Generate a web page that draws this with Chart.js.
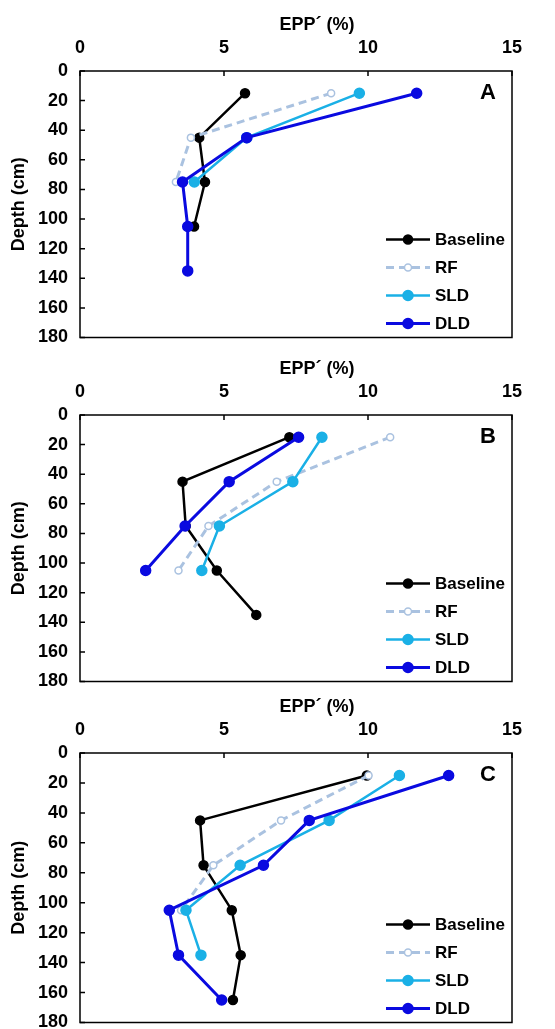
<!DOCTYPE html>
<html>
<head>
<meta charset="utf-8">
<script src="https://cdn.jsdelivr.net/npm/chart.js@4.4.0/dist/chart.umd.min.js"></script>
<style>
  body { margin: 0; background: #fff; }
  .panel { position: relative; width: 555px; }
</style>
</head>
<body>
<div class="panel" style="height:344px"><canvas id="chartA"></canvas></div>
<div class="panel" style="height:344px"><canvas id="chartB"></canvas></div>
<div class="panel" style="height:341px"><canvas id="chartC"></canvas></div>
<script>
// depth of each sampling layer (cm)
const depths = [15, 45, 75, 105, 135, 165];
const xTicks = [0, 5, 10, 15];
const yTicks = [0, 20, 40, 60, 80, 100, 120, 140, 160, 180];
const seriesNames = ['Baseline', 'RF', 'SLD', 'DLD'];

// EPP' (%), panel A
const baselineA = [5.73, 4.14, 4.34, 3.96];
const rfA = [8.72, 3.85, 3.33];
const sldA = [9.70, 5.79, 3.97];
const dldA = [11.69, 5.79, 3.56, 3.74, 3.74];

// panel B
const baselineB = [7.27, 3.56, 3.67, 4.75, 6.12];
const rfB = [10.77, 6.83, 4.46, 3.42];
const sldB = [8.40, 7.39, 4.84, 4.23];
const dldB = [7.59, 5.18, 3.65, 2.28];

// panel C
const baselineC = [9.96, 4.17, 4.29, 5.27, 5.58, 5.31];
const rfC = [10.02, 6.98, 4.63, 3.51];
const sldC = [11.09, 8.65, 5.56, 3.68, 4.20];
const dldC = [12.80, 7.96, 6.37, 3.10, 3.42, 4.92];

const FONT = '"Liberation Sans", Arial, sans-serif';

function toPoints(values) {
  return values.map((v, i) => ({ x: v, y: depths[i] }));
}

// box, inner ticks, top title, panel letter and legend
const framePlugin = {
  id: 'frame',
  afterDraw(chart, args, opts) {
    const ctx = chart.ctx;
    const a = chart.chartArea;
    const xs = chart.scales.x;
    const ys = chart.scales.y;
    ctx.save();
    ctx.strokeStyle = '#000';
    ctx.lineWidth = 1.5;
    ctx.setLineDash([]);
    ctx.strokeRect(a.left, a.top, a.right - a.left, a.bottom - a.top);
    ctx.beginPath();
    xTicks.forEach(v => {
      const px = xs.getPixelForValue(v);
      ctx.moveTo(px, a.top);
      ctx.lineTo(px, a.top + 5);
    });
    yTicks.forEach(v => {
      const py = ys.getPixelForValue(v);
      ctx.moveTo(a.left, py);
      ctx.lineTo(a.left + 5, py);
    });
    ctx.stroke();

    ctx.fillStyle = '#000';
    ctx.textAlign = 'center';
    ctx.textBaseline = 'middle';
    ctx.font = 'bold 18px ' + FONT;
    ctx.fillText('EPP\u00b4 (%)', (a.left + a.right) / 2 + 21, a.top - 46);
    ctx.font = 'bold 22px ' + FONT;
    ctx.fillText(opts.letter, a.right - 24, a.top + 22);

    // legend
    chart.data.datasets.forEach((ds, i) => {
      const y = a.bottom - 98 + i * 28;
      ctx.beginPath();
      ctx.strokeStyle = ds.borderColor;
      ctx.lineWidth = ds.borderWidth;
      ctx.setLineDash(ds.borderDash || []);
      ctx.moveTo(386, y);
      ctx.lineTo(430, y);
      ctx.stroke();
      ctx.setLineDash([]);
      ctx.beginPath();
      ctx.arc(408, y, ds.pointRadius, 0, Math.PI * 2);
      ctx.fillStyle = ds.pointBackgroundColor;
      ctx.fill();
      ctx.lineWidth = ds.pointBorderWidth;
      ctx.strokeStyle = ds.pointBorderColor;
      ctx.stroke();
      ctx.fillStyle = '#000';
      ctx.textAlign = 'left';
      ctx.font = 'bold 17px ' + FONT;
      ctx.fillText(ds.label, 435, y + 1);
    });
    ctx.restore();
  }
};

function makeChart(id, letter, series, topSpace, bottomPad) {
  const styles = [
    { color: '#000000', width: 2.5, radius: 4.5, fill: '#000000', dash: [] , order: 4},
    { color: '#aac2e0', width: 3, radius: 3.5, fill: '#ffffff', dash: [8, 5], order: 3 },
    { color: '#1ab0e6', width: 2.5, radius: 5, fill: '#1ab0e6', dash: [], order: 2 },
    { color: '#0a0ae0', width: 3, radius: 5, fill: '#0a0ae0', dash: [], order: 1 }
  ];
  const datasets = series.map((vals, i) => ({
    label: seriesNames[i],
    data: toPoints(vals),
    borderColor: styles[i].color,
    borderWidth: styles[i].width,
    borderDash: styles[i].dash,
    pointRadius: styles[i].radius,
    pointBackgroundColor: styles[i].fill,
    pointBorderColor: styles[i].color,
    pointBorderWidth: 1.5,
    showLine: true,
    tension: 0,
    order: styles[i].order
  }));

  return new Chart(document.getElementById(id), {
    type: 'scatter',
    data: { datasets: datasets },
    options: {
      responsive: true,
      maintainAspectRatio: false,
      animation: false,
      layout: { padding: { left: 0, right: 43, top: 0, bottom: bottomPad } },
      plugins: {
        legend: { display: false },
        tooltip: { enabled: false },
        frame: { letter: letter }
      },
      scales: {
        x: {
          type: 'linear',
          position: 'top',
          min: 0,
          max: 15,
          afterBuildTicks: (s) => { s.ticks = xTicks.map(v => ({ value: v })); },
          ticks: {
            padding: 12,
            color: '#000',
            font: { family: FONT, size: 18, weight: 'bold' }
          },
          grid: { display: false, drawTicks: false },
          border: { display: false },
          afterFit: (s) => { s.height = topSpace; s.paddingLeft = 0; s.paddingRight = 0; }
        },
        y: {
          type: 'linear',
          reverse: true,
          min: 0,
          max: 180,
          afterBuildTicks: (s) => { s.ticks = yTicks.map(v => ({ value: v })); },
          ticks: {
            padding: 12,
            color: '#000',
            font: { family: FONT, size: 18, weight: 'bold' }
          },
          title: {
            display: true,
            text: 'Depth (cm)',
            color: '#000',
            padding: { top: 8, bottom: 0 },
            font: { family: FONT, size: 18, weight: 'bold' }
          },
          grid: { display: false, drawTicks: false },
          border: { display: false },
          afterFit: (s) => { s.width = 80; s.paddingTop = 0; s.paddingBottom = 0; }
        }
      }
    },
    plugins: [framePlugin]
  });
}

makeChart('chartA', 'A', [baselineA, rfA, sldA, dldA], 71, 2);
makeChart('chartB', 'B', [baselineB, rfB, sldB, dldB], 71, 2);
makeChart('chartC', 'C', [baselineC, rfC, sldC, dldC], 65, 4);
</script>
</body>
</html>
